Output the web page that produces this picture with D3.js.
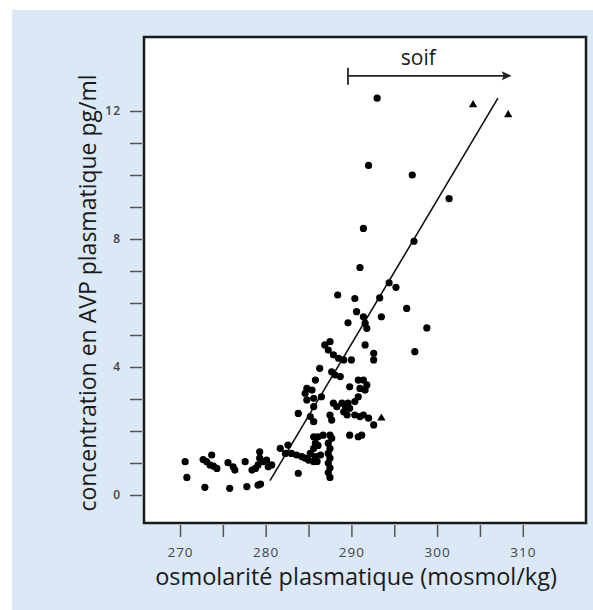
<!DOCTYPE html>
<html>
<head>
<meta charset="utf-8">
<script src="https://cdn.jsdelivr.net/npm/d3@7"></script>
<style>
  body { margin: 0; background: #ffffff; }
  text { font-family: "Open Sans", "Noto Sans", sans-serif; }
</style>
</head>
<body>
<div id="chart"></div>
<script>
// Points: [osmolarity mosmol/kg, AVP pg/ml]
var circlePoints = [
  [270.6, 1.04], [270.8, 0.55], [272.7, 1.11], [273.1, 1.04], [273.5, 0.94], [273.9, 0.90],
  [274.3, 0.83], [273.7, 1.25], [272.9, 0.24], [275.6, 1.01], [276.2, 0.88], [276.4, 0.78],
  [275.8, 0.21], [277.6, 1.04], [277.8, 0.26], [278.4, 0.78], [278.8, 0.83], [279.1, 0.31],
  [279.4, 0.34], [279.3, 1.35], [279.3, 1.15], [279.7, 1.04], [280.1, 1.09], [279.1, 0.94],
  [280.3, 0.88], [280.7, 0.94], [281.7, 1.46], [282.6, 1.56], [282.3, 1.30], [283.0, 1.30],
  [283.6, 1.25], [284.2, 1.20], [284.6, 1.15], [285.0, 1.09], [283.8, 0.68], [285.8, 1.62],
  [285.6, 1.46], [285.2, 1.30], [285.8, 1.20], [285.6, 1.04], [286.1, 1.55], [286.4, 1.25],
  [286.0, 1.05], [287.3, 1.62], [287.5, 1.45], [287.3, 1.30], [287.5, 1.15], [287.3, 1.00],
  [287.5, 0.85], [287.3, 0.70], [287.5, 0.55],
  [296.45, 5.83], [297.4, 4.48], [293.5, 5.57], [291.4, 5.57], [291.6, 5.37], [291.8, 5.21],
  [290.6, 5.73], [289.6, 5.38], [291.6, 4.69], [292.6, 4.43], [292.6, 4.22], [286.9, 4.69],
  [287.5, 4.79], [287.3, 4.53], [287.9, 4.38], [288.5, 4.27], [289.1, 4.22], [290.0, 4.22],
  [286.3, 3.96], [287.7, 3.85], [288.1, 3.75], [288.7, 3.70], [285.8, 3.59], [289.8, 3.38],
  [290.8, 3.59], [291.4, 3.59], [291.8, 3.44], [291.0, 3.33], [291.6, 3.28], [284.8, 3.33],
  [284.6, 3.18], [284.8, 2.97], [285.4, 3.28], [285.6, 3.02], [286.5, 3.07], [290.8, 3.07],
  [290.4, 2.92], [287.9, 2.87], [288.3, 2.76], [288.9, 2.87], [289.3, 2.76], [289.6, 2.87],
  [289.8, 2.71], [285.6, 2.76], [285.2, 2.45], [285.6, 2.29], [283.8, 2.55], [287.5, 2.50],
  [287.7, 2.34], [289.1, 2.60], [289.5, 2.50], [290.4, 2.50], [291.0, 2.45], [291.4, 2.50],
  [292.0, 2.40], [292.6, 2.19], [289.8, 1.87], [290.8, 1.82], [291.2, 1.87], [285.6, 1.82],
  [286.1, 1.82], [286.7, 1.87], [287.5, 1.87], [287.7, 1.77],
  [293.0, 12.4], [292.0, 10.3], [297.1, 10.0], [301.4, 9.26], [291.4, 8.33], [297.3, 7.93],
  [291.0, 7.11], [294.4, 6.63], [295.2, 6.49], [288.4, 6.25], [290.4, 6.14], [293.3, 6.16],
  [298.8, 5.22]
];
var trianglePoints = [[304.2, 12.19], [308.3, 11.88], [293.5, 2.40]];

// Regression line end points
var fitLine = [[280.5, 0.45], [307.1, 12.4]];

// "soif" arrow: start, end osmolarity and level
var thirstRange = [289.6, 308.7];
var thirstLevel = 13.1;

var xTicks = d3.range(270, 311, 5);
var yTicks = d3.range(0, 13, 1);

// Define SVG area dimensions
var svgWidth = 593;
var svgHeight = 610;

// Plot frame in pixels
var box = { left: 144, top: 37, right: 586, bottom: 523 };

var svg = d3.select("#chart")
  .append("svg")
  .attr("width", svgWidth)
  .attr("height", svgHeight);

// light blue panel
svg.append("rect")
  .attr("x", 12)
  .attr("y", 10)
  .attr("width", svgWidth - 12)
  .attr("height", svgHeight - 10)
  .attr("fill", "#dbe8f5");

// white plot area with frame
svg.append("rect")
  .attr("x", box.left)
  .attr("y", box.top)
  .attr("width", box.right - box.left)
  .attr("height", box.bottom - box.top)
  .attr("fill", "#ffffff")
  .attr("stroke", "#1a1a1a")
  .attr("stroke-width", 2.5);

var xScale = d3.scaleLinear()
  .domain([270, 310])
  .range([180, 522.8]);

var yScale = d3.scaleLinear()
  .domain([0, 12])
  .range([495, 111]);

// x axis
var xAxis = svg.append("g")
  .attr("transform", `translate(0, ${box.bottom + 2})`)
  .call(d3.axisBottom(xScale)
    .tickValues(xTicks)
    .tickSize(12)
    .tickPadding(10)
    .tickFormat(d => d % 10 === 0 ? d : ""));
xAxis.select(".domain").remove();
xAxis.selectAll(".tick line").attr("stroke", "#555").attr("stroke-width", 1.5);
xAxis.selectAll(".tick text").filter(d => d % 10 !== 0).remove();
xAxis.selectAll(".tick text")
  .attr("fill", "#444")
  .style("font-size", "13.5px")
  .style("letter-spacing", "1px");

// y axis
var yAxis = svg.append("g")
  .attr("transform", `translate(${box.left - 2}, 0)`)
  .call(d3.axisLeft(yScale)
    .tickValues(yTicks)
    .tickSize(12)
    .tickPadding(9)
    .tickFormat(d => d % 4 === 0 ? d : ""));
yAxis.select(".domain").remove();
yAxis.selectAll(".tick line").attr("stroke", "#555").attr("stroke-width", 1.5);
yAxis.selectAll(".tick text").filter(d => d % 4 !== 0).remove();
yAxis.selectAll(".tick text")
  .attr("fill", "#444")
  .style("font-size", "12px")
  .style("font-weight", "600")
  .style("letter-spacing", "1px");

// axis titles
svg.append("text")
  .attr("x", 356)
  .attr("y", 585)
  .attr("text-anchor", "middle")
  .attr("fill", "#1a1a1a")
  .style("font-size", "23.5px")
  .text("osmolarité plasmatique (mosmol/kg)");

svg.append("text")
  .attr("transform", "translate(96, 293) rotate(-90)")
  .attr("text-anchor", "middle")
  .attr("fill", "#1a1a1a")
  .style("font-size", "23px")
  .text("concentration en AVP plasmatique pg/ml");

// fitted line
svg.append("path")
  .datum(fitLine)
  .attr("d", d3.line().x(d => xScale(d[0])).y(d => yScale(d[1])))
  .attr("fill", "none")
  .attr("stroke", "#111")
  .attr("stroke-width", 1.6);

// data points
svg.append("g")
  .selectAll("circle")
  .data(circlePoints)
  .enter()
  .append("circle")
  .attr("cx", d => xScale(d[0]))
  .attr("cy", d => yScale(d[1]))
  .attr("r", 3.6)
  .attr("fill", "#000");

svg.append("g")
  .selectAll("path")
  .data(trianglePoints)
  .enter()
  .append("path")
  .attr("d", d3.symbol().type(d3.symbolTriangle).size(30))
  .attr("transform", d => `translate(${xScale(d[0])}, ${yScale(d[1])})`)
  .attr("fill", "#000");

// thirst arrow
var ay = yScale(thirstLevel);
var ax0 = xScale(thirstRange[0]);
var ax1 = xScale(thirstRange[1]);
var arrow = svg.append("g").attr("stroke", "#222").attr("stroke-width", 1.8);
arrow.append("line")
  .attr("x1", ax0).attr("x2", ax1 - 6)
  .attr("y1", ay).attr("y2", ay);
arrow.append("line")
  .attr("x1", ax0).attr("x2", ax0)
  .attr("y1", ay - 8).attr("y2", ay + 9);
svg.append("path")
  .attr("d", `M${ax1},${ay} L${ax1 - 10},${ay - 4.5} L${ax1 - 8},${ay} L${ax1 - 10},${ay + 4.5} Z`)
  .attr("fill", "#222");

svg.append("text")
  .attr("x", xScale(297.8))
  .attr("y", 65)
  .attr("text-anchor", "middle")
  .attr("fill", "#1a1a1a")
  .style("font-size", "21px")
  .text("soif");
</script>
</body>
</html>
